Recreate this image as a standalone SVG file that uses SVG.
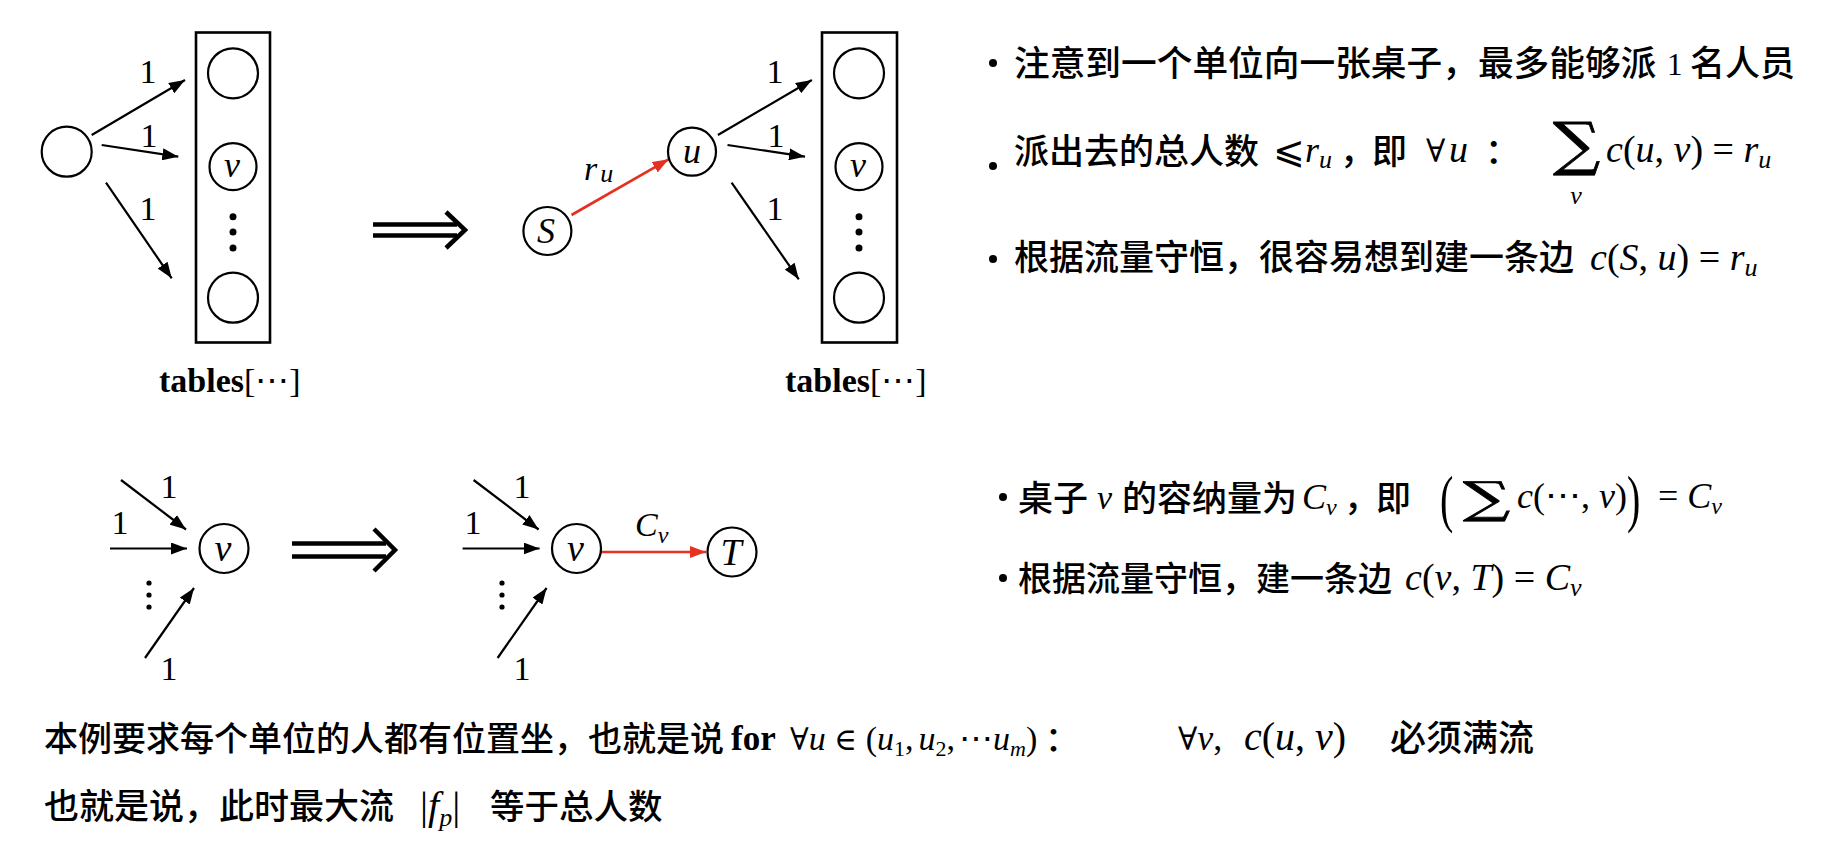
<svg xmlns="http://www.w3.org/2000/svg" width="1847" height="857" viewBox="0 0 1847 857">
<style>
.cjk{font-family:"Noto Sans CJK SC",sans-serif;font-size:35px;font-weight:500;fill:#000}
.m{font-family:"Liberation Serif","DejaVu Serif",serif;fill:#000}
.i{font-style:italic}
.sym{font-family:"DejaVu Serif","DejaVu Sans",serif;fill:#000}
.sum{font-family:"DejaVu Serif",serif;fill:#000;stroke:#000;stroke-width:0.8}
.node{fill:none;stroke:#000;stroke-width:2.2}
.box{fill:none;stroke:#000;stroke-width:2.6}
.edge{fill:none;stroke:#000;stroke-width:2.2}
.red{fill:none;stroke:#e5311f;stroke-width:2.6}
.dbl{fill:none;stroke:#000;stroke-width:4.5}
.lbl{font-family:"Liberation Serif",serif;font-size:34px;text-anchor:middle}
</style>
<defs>
<marker id="ah" markerWidth="16" markerHeight="12" refX="16" refY="6" orient="auto" markerUnits="userSpaceOnUse"><path d="M0,0 L16,6 L0,12 z" fill="#000"/></marker>
<marker id="ahr" markerWidth="16" markerHeight="12" refX="16" refY="6" orient="auto" markerUnits="userSpaceOnUse"><path d="M0,0 L16,6 L0,12 z" fill="#e5311f"/></marker>
</defs>
<rect width="1847" height="857" fill="#fff"/>

<!-- connectors -->
<g id="connectors">
  <line class="edge" x1="91.7" y1="135" x2="185" y2="80" marker-end="url(#ah)"/>
  <line class="edge" x1="101.7" y1="145" x2="178.3" y2="156.7" marker-end="url(#ah)"/>
  <line class="edge" x1="106" y1="182.7" x2="171.7" y2="278.3" marker-end="url(#ah)"/>
  <line class="red" x1="571.5" y1="215" x2="668.6" y2="159.3" marker-end="url(#ahr)"/>
  <line class="edge" x1="717.9" y1="135" x2="811.9" y2="80" marker-end="url(#ah)"/>
  <line class="edge" x1="727.5" y1="145" x2="805" y2="156.7" marker-end="url(#ah)"/>
  <line class="edge" x1="731.6" y1="182.7" x2="798.8" y2="279.3" marker-end="url(#ah)"/>
  <line class="edge" x1="121" y1="480" x2="186" y2="529.5" marker-end="url(#ah)"/>
  <line class="edge" x1="110" y1="548.5" x2="187" y2="548.5" marker-end="url(#ah)"/>
  <line class="edge" x1="145" y1="658" x2="194" y2="588" marker-end="url(#ah)"/>
  <line class="edge" x1="473.6" y1="480" x2="538.6" y2="529.5" marker-end="url(#ah)"/>
  <line class="edge" x1="462.6" y1="548.5" x2="539.6" y2="548.5" marker-end="url(#ah)"/>
  <line class="edge" x1="497.6" y1="658" x2="546.6" y2="588" marker-end="url(#ah)"/>
  <line class="red" x1="601" y1="552" x2="706" y2="552" marker-end="url(#ahr)"/>
  <g id="implies1">
    <path class="dbl" d="M373,224.5 H457 M373,235.5 H457"/>
    <path class="dbl" d="M446,212 L465,230 L446,248"/>
  </g>
  <g id="implies2">
    <path class="dbl" d="M292,543.5 H386 M292,556.5 H386"/>
    <path class="dbl" d="M374,529 L395,550 L374,571"/>
  </g>
</g>

<!-- edge labels -->
<g id="edge-labels">
  <text class="lbl" x="148" y="83">1</text>
  <text class="lbl" x="149" y="147">1</text>
  <text class="lbl" x="148" y="220">1</text>
  <text class="lbl" x="775" y="83">1</text>
  <text class="lbl" x="776" y="147">1</text>
  <text class="lbl" x="775" y="220">1</text>
  <text class="m i" x="584" y="180" font-size="34">r<tspan font-size="26" dx="3" dy="2">u</tspan></text>
  <text class="lbl" x="169" y="498">1</text>
  <text class="lbl" x="120" y="534">1</text>
  <text class="lbl" x="169" y="680">1</text>
  <text class="lbl" x="522" y="498">1</text>
  <text class="lbl" x="473" y="534">1</text>
  <text class="lbl" x="522" y="680">1</text>
  <text class="m i" x="635" y="536" font-size="34">C<tspan font-size="24" dy="7">v</tspan></text>
</g>

<!-- top-left diagram -->
<g id="n-src1"><circle class="node" cx="66.7" cy="151.7" r="25"/></g>
<g id="n-tables1">
  <rect class="box" x="196" y="32.5" width="74" height="310"/>
  <circle class="node" cx="233" cy="73.3" r="25"/>
  <circle class="node" cx="233" cy="166.7" r="23.5"/>
  <text class="m i" x="232" y="177" font-size="36" text-anchor="middle">v</text>
  <circle cx="233" cy="216.7" r="3.5"/><circle cx="233" cy="232" r="3.5"/><circle cx="233" cy="248" r="3.5"/>
  <circle class="node" cx="233" cy="297.7" r="25"/>
  <text class="m" x="159" y="392" font-size="34"><tspan font-weight="bold">tables</tspan>[⋯]</text>
</g>

<!-- top-middle diagram -->
<g id="n-S"><circle class="node" cx="547.4" cy="231" r="24"/><text class="m i" x="546" y="243" font-size="36" text-anchor="middle">S</text></g>
<g id="n-u"><circle class="node" cx="692" cy="151.7" r="24"/><text class="m i" x="692" y="163" font-size="36" text-anchor="middle">u</text></g>
<g id="n-tables2">
  <rect class="box" x="822" y="32.5" width="75" height="310"/>
  <circle class="node" cx="859" cy="73.3" r="25"/>
  <circle class="node" cx="859" cy="166.7" r="23.5"/>
  <text class="m i" x="858" y="177" font-size="36" text-anchor="middle">v</text>
  <circle cx="859" cy="216.7" r="3.5"/><circle cx="859" cy="232" r="3.5"/><circle cx="859" cy="248" r="3.5"/>
  <circle class="node" cx="859" cy="297.7" r="25"/>
  <text class="m" x="785" y="392" font-size="34"><tspan font-weight="bold">tables</tspan>[⋯]</text>
</g>

<!-- bottom-left diagrams -->
<g id="n-v1">
  <circle class="node" cx="224" cy="548.5" r="24.5"/>
  <text class="m i" x="223" y="561" font-size="38" text-anchor="middle">v</text>
  <circle cx="149" cy="583" r="2.6"/><circle cx="149" cy="595" r="2.6"/><circle cx="149" cy="607" r="2.6"/>
</g>
<g id="n-v2">
  <circle class="node" cx="576.5" cy="548.5" r="24.5"/>
  <text class="m i" x="575.5" y="561" font-size="38" text-anchor="middle">v</text>
  <circle cx="502" cy="583" r="2.6"/><circle cx="502" cy="595" r="2.6"/><circle cx="502" cy="607" r="2.6"/>
</g>
<g id="n-T">
  <circle class="node" cx="732" cy="552" r="24.5"/>
  <text class="m i" x="731" y="565" font-size="38" text-anchor="middle">T</text>
</g>

<!-- top-right text -->
<g id="text-top-right">
  <circle cx="993" cy="63" r="4"/>
  <text class="cjk" x="1014" y="76" style="font-size:35.7px">注意到一个单位向一张桌子，最多能够派</text>
  <text class="m" x="1667" y="75" font-size="31">1</text>
  <text class="cjk" x="1690" y="76">名人员</text>

  <circle cx="993" cy="166" r="4"/>
  <text class="cjk" x="1014" y="164">派出去的总人数</text>
  <text class="sym" x="1273" y="163" font-size="38">⩽</text>
  <text class="m i" x="1305" y="162" font-size="36">r<tspan font-size="26" dy="6">u</tspan></text>
  <text class="cjk" x="1340" y="164">，</text>
  <text class="cjk" x="1372" y="164">即</text>
  <text class="sym" x="1426" y="162" font-size="32">∀</text>
  <text class="m i" x="1449" y="162" font-size="38">u</text>
  <text class="cjk" x="1485" y="164">：</text>
  <text class="sum" transform="translate(1553,164) scale(1.13,1)" font-size="58.5">∑</text>
  <text class="m i" x="1576" y="204" font-size="26" text-anchor="middle">v</text>
  <text class="m" x="1606" y="162" font-size="38"><tspan class="i">c</tspan>(<tspan class="i">u</tspan>, <tspan class="i">v</tspan>) = <tspan class="i">r</tspan><tspan class="i" font-size="26" dy="6">u</tspan></text>

  <circle cx="993" cy="259" r="4"/>
  <text class="cjk" x="1014" y="270">根据流量守恒，很容易想到建一条边</text>
  <text class="m" x="1590" y="270" font-size="38"><tspan class="i">c</tspan>(<tspan class="i">S</tspan>, <tspan class="i">u</tspan>) = <tspan class="i">r</tspan><tspan class="i" font-size="26" dy="6">u</tspan></text>
</g>

<!-- bottom-right text -->
<g id="text-bottom-right">
  <circle cx="1003" cy="497" r="4"/>
  <text class="cjk" x="1018" y="511">桌子</text>
  <text class="m i" x="1097" y="509" font-size="34">v</text>
  <text class="cjk" x="1122" y="511">的容纳量为</text>
  <text class="m i" x="1302" y="509" font-size="36">C<tspan font-size="24" dy="6">v</tspan></text>
  <text class="cjk" x="1344" y="511">，</text>
  <text class="cjk" x="1376" y="511">即</text>
  <text class="m" transform="translate(1440,520) scale(1,1.6)" font-size="40">(</text>
  <text class="sum" transform="translate(1463,513) scale(1.5,1)" font-size="44">∑</text>
  <text class="m" x="1517" y="508" font-size="36"><tspan class="i">c</tspan>(⋯, <tspan class="i">v</tspan>)</text>
  <text class="m" transform="translate(1627,520) scale(1,1.6)" font-size="40">)</text>
  <text class="m" x="1658" y="508" font-size="36">= <tspan class="i">C</tspan><tspan class="i" font-size="24" dy="6">v</tspan></text>

  <circle cx="1003" cy="578" r="4"/>
  <text class="cjk" x="1018" y="591" style="font-size:34px">根据流量守恒，建一条边</text>
  <text class="m" x="1405" y="590" font-size="38"><tspan class="i">c</tspan>(<tspan class="i">v</tspan>, <tspan class="i">T</tspan>) = <tspan class="i">C</tspan><tspan class="i" font-size="26" dy="6">v</tspan></text>
</g>

<!-- bottom text -->
<g id="text-bottom">
  <text class="cjk" x="44" y="751" style="font-size:34px">本例要求每个单位的人都有位置坐，也就是说</text>
  <text class="m" x="731" y="750" font-size="35" font-weight="bold">for</text>
  <text class="m" x="790" y="750" font-size="34"><tspan class="sym" font-size="31">∀</tspan><tspan class="i">u</tspan> <tspan class="sym" font-size="31">∈</tspan> (<tspan class="i">u</tspan><tspan font-size="22" dy="6">1</tspan><tspan dy="-6">,</tspan><tspan class="i" dx="5">u</tspan><tspan font-size="22" dy="6">2</tspan><tspan dy="-6">,</tspan><tspan dx="4">⋯</tspan><tspan class="i">u</tspan><tspan class="i" font-size="22" dy="6">m</tspan><tspan dy="-6">)</tspan></text>
  <text class="cjk" x="1045" y="751" style="font-size:34px">：</text>
  <text class="m" x="1178" y="750" font-size="36"><tspan class="sym" font-size="32">∀</tspan><tspan class="i">v</tspan>,</text>
  <text class="m" x="1244" y="750" font-size="40"><tspan class="i">c</tspan>(<tspan class="i">u</tspan>, <tspan class="i">v</tspan>)</text>
  <text class="cjk" x="1390" y="751" style="font-size:36px">必须满流</text>

  <text class="cjk" x="44" y="819">也就是说，此时最大流</text>
  <text class="m" x="420" y="819" font-size="40">|<tspan class="i">f</tspan><tspan class="i" font-size="26" dy="7">p</tspan><tspan dy="-7">|</tspan></text>
  <text class="cjk" x="490" y="819" style="font-size:34.5px">等于总人数</text>
</g>
</svg>
